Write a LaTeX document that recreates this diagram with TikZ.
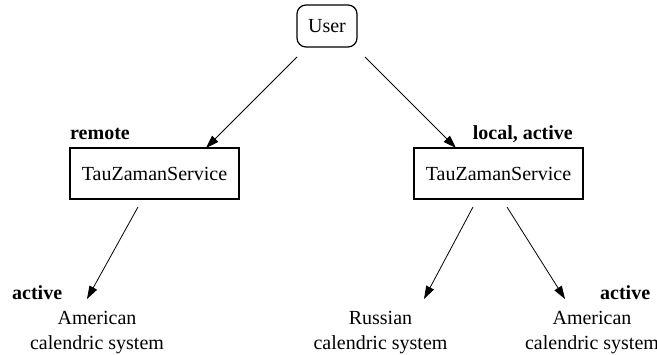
\documentclass[tikz,border=0pt]{standalone}
\usepackage{fontspec}
\setmainfont{Liberation Serif}
\usetikzlibrary{arrows.meta}
\begin{document}
\begin{tikzpicture}[x=1pt,y=-1pt,
  every node/.style={font=\fontsize{20}{25}\selectfont, inner sep=0pt},
  svcbox/.style={draw, line width=1.2pt, minimum width=169pt, minimum height=51pt},
  userbox/.style={draw, line width=1.2pt, rounded corners=9pt, minimum width=60pt, minimum height=42pt},
  lbl/.style={font=\fontsize{20}{25}\selectfont\bfseries},
  cal/.style={align=center},
  conn/.style={line width=0.8pt, -{Triangle[length=13pt,width=8.5pt]}}]
\useasboundingbox (0,0) rectangle (657,355);
\node[userbox] (user) at (327,26) {User};
\node[svcbox] (rsvc) at (154.5,173.5) {TauZamanService};
\node[svcbox] (lsvc) at (498.5,173.5) {TauZamanService};
\node[lbl, anchor=base west] (lremote) at (70,140) {remote};
\node[lbl, anchor=base east] (llocal) at (573,140) {local, active};
\node[cal] (am1) at (97,333) {American\\calendric system};
\node[cal] (ru) at (380.5,333) {Russian\\calendric system};
\node[cal] (am2) at (592,333) {American\\calendric system};
\node[lbl, anchor=base west] (act1) at (12,300) {active};
\node[lbl, anchor=base west] (act2) at (600,300) {active};
\coordinate (s1) at (297,57);
\coordinate (e1) at (206,148);
\coordinate (s2) at (365,57);
\coordinate (e2) at (456,148);
\coordinate (s3) at (138,207);
\coordinate (e3) at (87,299);
\coordinate (s4) at (473,207);
\coordinate (e4) at (424,299);
\coordinate (s5) at (507,207);
\coordinate (e5) at (565,299);
\draw[conn] (s1) -- (e1);
\draw[conn] (s2) -- (e2);
\draw[conn] (s3) -- (e3);
\draw[conn] (s4) -- (e4);
\draw[conn] (s5) -- (e5);
\end{tikzpicture}
\end{document}
